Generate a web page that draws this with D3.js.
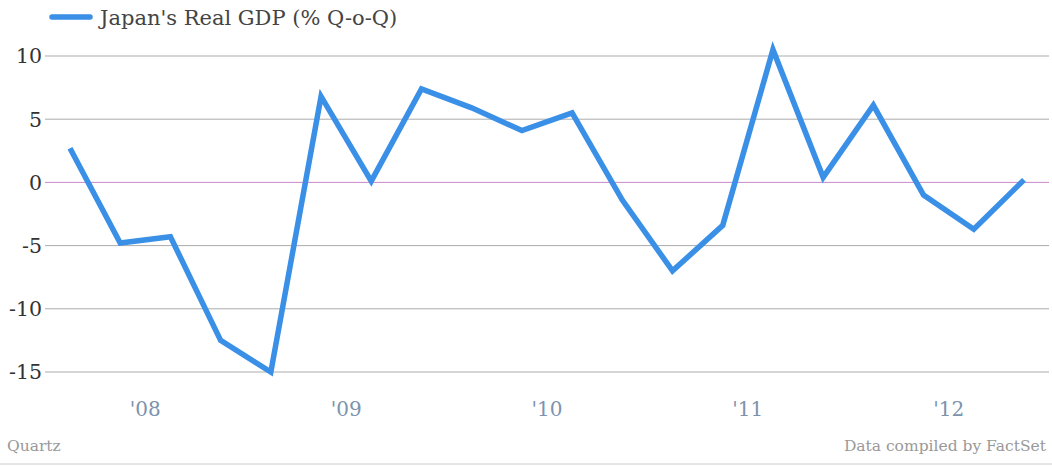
<!DOCTYPE html>
<html><head><meta charset="utf-8">
<script src="https://cdn.jsdelivr.net/npm/d3@7"></script>
<style>body{margin:0;background:#fff;}svg{display:block;}</style>
</head><body>
<svg id="c" width="1052" height="466"></svg>
<script>
const categories = ["Q1 08","Q2 08","Q3 08","Q4 08","Q1 09","Q2 09","Q3 09","Q4 09","Q1 10","Q2 10","Q3 10","Q4 10","Q1 11","Q2 11","Q3 11","Q4 11","Q1 12","Q2 12","Q3 12","Q4 12"];
const gdpValues = [2.7,-4.8,-4.3,-12.5,-15.0,6.8,0.1,7.4,5.9,4.1,5.5,-1.4,-7.0,-3.4,10.5,0.4,6.1,-1.0,-3.7,0.2];
const yTicks = [10,5,0,-5,-10,-15];
const xTickPositions = [1.5,5.5,9.5,13.5,17.5];
const xTickLabels = ["'08","'09","'10","'11","'12"];
const seriesName = "Japan's Real GDP (% Q-o-Q)";

const svg = d3.select("#c");
const font = "'DejaVu Serif', serif";
const x = d3.scaleLinear().domain([0, categories.length-1]).range([70,1024]);
const y = d3.scaleLinear().domain([-15,10]).range([372,56]);

// gridlines
svg.append("g").selectAll("line").data(yTicks).join("line")
  .attr("x1",45).attr("x2",1049)
  .attr("y1",d=>y(d)).attr("y2",d=>y(d))
  .attr("stroke",d=>d===0?"#c98ac9":"#ababab").attr("stroke-width",1);

// y labels
svg.append("g").selectAll("text").data(yTicks).join("text")
  .attr("x",42).attr("y",d=>y(d)).attr("dy","0.36em")
  .attr("text-anchor","end").attr("font-family",font).attr("font-size",20.5)
  .attr("fill","#333").text(d=>d);

// x labels
svg.append("g").selectAll("text").data(xTickPositions).join("text")
  .attr("x",d=>x(d)).attr("y",416)
  .attr("text-anchor","middle").attr("font-family",font).attr("font-size",20)
  .attr("fill","#7d93ad").text((d,i)=>xTickLabels[i]);

// line
const line = d3.line().x((d,i)=>x(i)).y(d=>y(d));
svg.append("path").datum(gdpValues).attr("d",line)
  .attr("fill","none").attr("stroke","#3a8fe6").attr("stroke-width",5.5)
  .attr("stroke-linejoin","miter");

// legend
svg.append("line").attr("x1",52).attr("x2",90).attr("y1",17).attr("y2",17)
  .attr("stroke","#3a8fe6").attr("stroke-width",5.5).attr("stroke-linecap","round");
svg.append("text").attr("x",100).attr("y",25).attr("font-family",font).attr("font-size",21)
  .attr("fill","#444").text(seriesName);

// footer
svg.append("text").attr("x",7).attr("y",451).attr("font-family",font).attr("font-size",15.5)
  .attr("fill","#999").text("Quartz");
svg.append("text").attr("x",1046).attr("y",451).attr("text-anchor","end").attr("font-family",font).attr("font-size",15.5)
  .attr("fill","#999").text("Data compiled by FactSet");
svg.append("line").attr("x1",0).attr("x2",1052).attr("y1",464).attr("y2",464)
  .attr("stroke","#ccc").attr("stroke-width",1);
</script>
</body></html>
